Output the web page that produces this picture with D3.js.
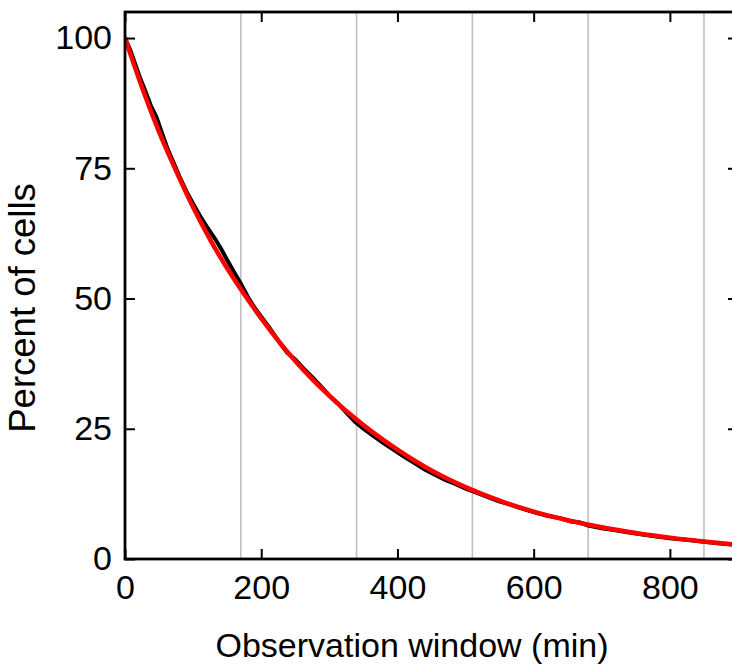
<!DOCTYPE html>
<html>
<head>
<meta charset="utf-8">
<script src="https://cdn.jsdelivr.net/npm/d3@7"></script>
<style>
  html, body { margin: 0; padding: 0; background: #ffffff; }
  svg { display: block; font-family: "Liberation Sans", Arial, sans-serif; }
</style>
</head>
<body>
<svg id="chart" width="732" height="664"></svg>
<script>
// Observed fraction of cells remaining
const obsTime = [0, 8, 15, 22, 30, 38, 46, 54, 62, 70, 80, 90, 100, 110, 120, 130, 140, 150, 160, 170,
  180, 190, 200, 212, 225, 238, 250, 262, 275, 288, 300, 312, 325, 338, 350, 365, 380, 395, 410, 425,
  440, 455, 470, 485, 500, 515, 530, 548, 562, 575, 590, 605, 620, 640, 655, 668, 680, 700, 720, 740,
  760, 780, 800, 815, 830, 850, 870, 890, 900];
const obsPercent = [100, 97.6, 95.0, 92.4, 89.8, 87.0, 84.9, 81.9, 78.9, 76.5, 73.4, 70.6, 68.2, 65.9, 63.8, 61.9, 59.8, 57.4, 55.1, 52.9,
  50.4, 48.3, 46.5, 44.4, 41.9, 39.6, 38.3, 36.6, 34.9, 33.1, 31.4, 29.9, 28.1, 26.3, 25.0, 23.6, 22.2, 20.9, 19.6, 18.4,
  17.2, 16.2, 15.2, 14.4, 13.5, 12.8, 12.0, 11.1, 10.6, 10.0, 9.4, 8.8, 8.3, 7.8, 7.2, 7.0, 6.4, 5.9, 5.5, 5.1,
  4.7, 4.3, 4.0, 3.8, 3.6, 3.3, 3.0, 2.8, 2.7];

// Fitted decay curve
const fitTime = [0, 25, 50, 75, 100, 125, 150, 175, 200, 250, 300, 350, 400, 450, 500, 550, 600, 650, 700, 750, 800, 850, 900];
const fitPercent = [100, 90.5, 82, 74.5, 67.5, 61.3, 55.8, 50.8, 46.2, 38, 31.3, 25.7, 21, 17.0, 13.8, 11.2, 9.1, 7.45, 6.1, 5.0, 4.1, 3.35, 2.7];

// Axis ticks and vertical reference lines
const xTicks = [0, 200, 400, 600, 800];
const yTicks = [0, 25, 50, 75, 100];
const refLines = [170, 340, 510, 680, 850];

const xMax = 900, yMax = 105;

const svg = d3.select("#chart");
const x = d3.scaleLinear().domain([0, xMax]).range([125, 738]);
const y = d3.scaleLinear().domain([0, yMax]).range([559, 12]);

// clip for the plotting area
svg.append("defs").append("clipPath").attr("id", "plotClip")
  .append("rect")
  .attr("x", x(0)).attr("y", y(yMax))
  .attr("width", x(xMax) - x(0)).attr("height", y(0) - y(yMax));

// vertical reference lines
svg.append("g").selectAll("line").data(refLines).join("line")
  .attr("x1", d => x(d)).attr("x2", d => x(d))
  .attr("y1", y(yMax)).attr("y2", y(0))
  .attr("stroke", "#c0c0c0").attr("stroke-width", 1.6);

const plot = svg.append("g").attr("clip-path", "url(#plotClip)");

const obs = obsTime.map((t, i) => [t, obsPercent[i]]);
const fit = fitTime.map((t, i) => [t, fitPercent[i]]);

plot.append("path").datum(obs)
  .attr("fill", "none").attr("stroke", "#000000").attr("stroke-width", 4)
  .attr("stroke-linejoin", "miter")
  .attr("d", d3.line().x(d => x(d[0])).y(d => y(d[1])));

plot.append("path").datum(fit)
  .attr("fill", "none").attr("stroke", "#ff0000").attr("stroke-width", 4.5)
  .attr("stroke-linecap", "round")
  .attr("d", d3.line().x(d => x(d[0])).y(d => y(d[1])).curve(d3.curveMonotoneX));

// axes with inward ticks
const tickFont = 34;
function styleAxis(g) {
  g.select(".domain").remove();
  g.selectAll(".tick line").attr("stroke", "#000").attr("stroke-width", 2);
  g.selectAll(".tick text").attr("fill", "#000").attr("font-size", tickFont)
    .attr("font-family", "'Liberation Sans', Arial, sans-serif");
}

svg.append("g").attr("transform", `translate(0,${y(0)})`)
  .call(d3.axisBottom(x).tickValues(xTicks).tickSize(-10).tickPadding(16).tickFormat(d3.format("d")))
  .call(styleAxis);

svg.append("g").attr("transform", `translate(0,${y(yMax)})`)
  .call(d3.axisTop(x).tickValues(xTicks).tickSize(-10).tickFormat(""))
  .call(styleAxis);

svg.append("g").attr("transform", `translate(${x(0)},0)`)
  .call(d3.axisLeft(y).tickValues(yTicks).tickSize(-10).tickPadding(13).tickFormat(d3.format("d")))
  .call(styleAxis);

svg.append("g").attr("transform", `translate(${x(xMax)},0)`)
  .call(d3.axisRight(y).tickValues(yTicks).tickSize(-10).tickFormat(""))
  .call(styleAxis);

// plot frame
svg.append("rect")
  .attr("x", x(0)).attr("y", y(yMax))
  .attr("width", x(xMax) - x(0)).attr("height", y(0) - y(yMax))
  .attr("fill", "none").attr("stroke", "#000").attr("stroke-width", 2.8);

// axis titles
svg.append("text")
  .attr("x", 412).attr("y", 657)
  .attr("text-anchor", "middle").attr("font-size", 34).attr("fill", "#000")
  .text("Observation window (min)");

svg.append("text")
  .attr("transform", "translate(35,308) rotate(-90)")
  .attr("text-anchor", "middle").attr("font-size", 36.5).attr("fill", "#000")
  .text("Percent of cells");
</script>
</body>
</html>
